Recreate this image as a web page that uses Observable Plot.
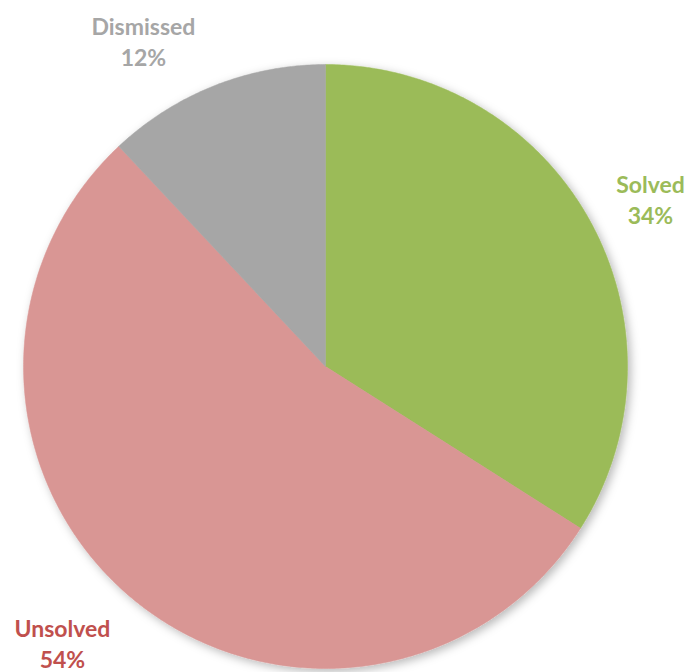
<!DOCTYPE html>
<html>
<head>
<meta charset="utf-8">
<script src="https://cdn.jsdelivr.net/npm/d3@7"></script>
<script src="https://cdn.jsdelivr.net/npm/@observablehq/plot@0.6"></script>
<style>
  html, body { margin: 0; padding: 0; background: #fff; }
</style>
</head>
<body>
<div id="chart"></div>
<script>
const categories = ["Solved", "Unsolved", "Dismissed"];
const shares = [34, 54, 12];
const sliceColors = ["#9BBB59", "#D99694", "#A6A6A6"];
const labelColors = ["#9BBB59", "#C0504D", "#A6A6A6"];
// label anchor positions in unit-circle coordinates
const labelX = [1.076, -0.871, -0.603];
const labelY = [0.556, -0.915, 1.08];

// build slice polygons (clockwise from 12 o'clock)
const total = d3.sum(shares);
const slices = [];
let start = 0;
categories.forEach((name, i) => {
  const a0 = start, a1 = start + shares[i] / total * 2 * Math.PI;
  start = a1;
  slices.push({name, x: 0, y: 0, color: sliceColors[i]});
  const n = Math.max(2, Math.ceil((a1 - a0) / (Math.PI / 360)));
  for (let k = 0; k <= n; k++) {
    const a = a0 + (a1 - a0) * k / n;
    slices.push({name, x: Math.sin(a), y: Math.cos(a), color: sliceColors[i]});
  }
  slices.push({name, x: 0, y: 0, color: sliceColors[i]});
});

const labels = categories.map((name, i) => ({
  text: `${name}\n${shares[i]}%`,
  x: labelX[i], y: labelY[i], color: labelColors[i]
}));

const chart = Plot.plot({
  width: 690,
  height: 672,
  margin: 0,
  x: {domain: [-1, 1], range: [23, 627], axis: null},
  y: {domain: [-1, 1], range: [668, 64], axis: null},
  color: {type: "identity"},
  style: {background: "#fff", fontFamily: "Lato, 'Open Sans', sans-serif"},
  marks: [
    Plot.line(slices, {x: "x", y: "y", z: "name", fill: "color", stroke: "color", strokeWidth: 0.5, curve: "linear", className: "pie"}),
    Plot.text(labels, {x: "x", y: "y", text: "text", fill: "color", fontSize: 23, fontWeight: 700, lineHeight: 1.35})
  ]
});

// soft drop shadow around the pie
const ns = "http://www.w3.org/2000/svg";
const defs = document.createElementNS(ns, "defs");
defs.innerHTML = `<filter id="pieShadow" x="-10%" y="-10%" width="120%" height="120%">
  <feDropShadow dx="3" dy="3" stdDeviation="5" flood-color="#000" flood-opacity="0.28"/>
</filter>`;
chart.insertBefore(defs, chart.firstChild);
const pieGroup = chart.querySelector("g.pie") || chart.querySelector("g[aria-label='line']");
if (pieGroup) pieGroup.setAttribute("filter", "url(#pieShadow)");

document.getElementById("chart").appendChild(chart);
</script>
</body>
</html>
